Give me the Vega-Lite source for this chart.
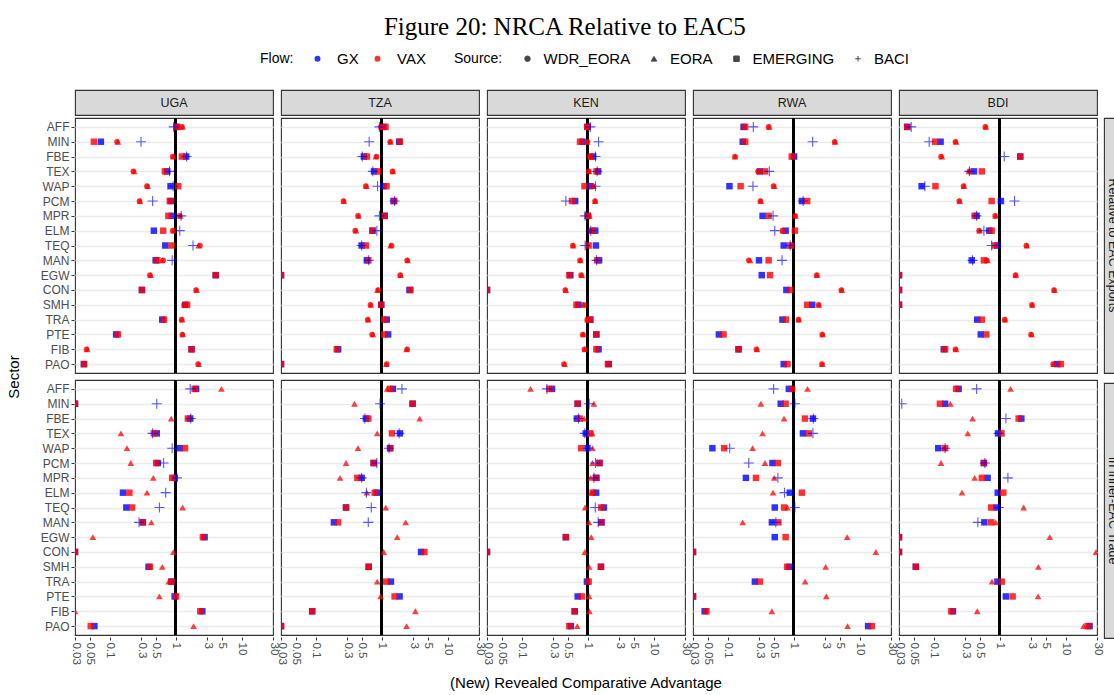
{
"$schema": "https://vega.github.io/schema/vega-lite/v6.json",
"background": "white",
"padding": {"left": 7, "top": 15, "right": 0, "bottom": 0},
"title": {"text": "Figure 20: NRCA Relative to EAC5", "font": "Liberation Serif", "fontSize": 25, "fontWeight": "normal", "color": "black", "anchor": "middle", "offset": 11},
"datasets": {
"strips": [{"c":"UGA","k":1},{"c":"TZA","k":1},{"c":"KEN","k":1},{"c":"RWA","k":1},{"c":"BDI","k":1}],
"rstrips": [{"r":1,"lab":"Relative to EAC Exports"},{"r":2,"lab":"In Inner-EAC Trade"}],
"pts": [
{"c":"UGA","r":1,"s":"AFF","f":"GX","o":"EMERGING","v":1.04},{"c":"UGA","r":1,"s":"AFF","f":"VAX","o":"EMERGING","v":1.06},{"c":"UGA","r":1,"s":"AFF","f":"VAX","o":"EORA","v":1.28},{"c":"UGA","r":1,"s":"AFF","f":"VAX","o":"WDR_EORA","v":1.25},{"c":"UGA","r":1,"s":"AFF","f":"GX","o":"BACI","v":0.94},
{"c":"UGA","r":1,"s":"MIN","f":"GX","o":"EMERGING","v":0.074},{"c":"UGA","r":1,"s":"MIN","f":"VAX","o":"EMERGING","v":0.058},{"c":"UGA","r":1,"s":"MIN","f":"VAX","o":"EORA","v":0.134},{"c":"UGA","r":1,"s":"MIN","f":"VAX","o":"WDR_EORA","v":0.13},{"c":"UGA","r":1,"s":"MIN","f":"GX","o":"BACI","v":0.30},
{"c":"UGA","r":1,"s":"FBE","f":"GX","o":"EMERGING","v":1.45},{"c":"UGA","r":1,"s":"FBE","f":"VAX","o":"EMERGING","v":1.25},{"c":"UGA","r":1,"s":"FBE","f":"VAX","o":"EORA","v":0.92},{"c":"UGA","r":1,"s":"FBE","f":"VAX","o":"WDR_EORA","v":0.91},{"c":"UGA","r":1,"s":"FBE","f":"GX","o":"BACI","v":1.47},
{"c":"UGA","r":1,"s":"TEX","f":"GX","o":"EMERGING","v":0.75},{"c":"UGA","r":1,"s":"TEX","f":"VAX","o":"EMERGING","v":0.69},{"c":"UGA","r":1,"s":"TEX","f":"VAX","o":"EORA","v":0.237},{"c":"UGA","r":1,"s":"TEX","f":"VAX","o":"WDR_EORA","v":0.23},{"c":"UGA","r":1,"s":"TEX","f":"GX","o":"BACI","v":0.81},
{"c":"UGA","r":1,"s":"WAP","f":"GX","o":"EMERGING","v":0.84},{"c":"UGA","r":1,"s":"WAP","f":"VAX","o":"EMERGING","v":1.1},{"c":"UGA","r":1,"s":"WAP","f":"VAX","o":"EORA","v":0.38},{"c":"UGA","r":1,"s":"WAP","f":"VAX","o":"WDR_EORA","v":0.37},{"c":"UGA","r":1,"s":"WAP","f":"GX","o":"BACI","v":0.92},
{"c":"UGA","r":1,"s":"PCM","f":"GX","o":"EMERGING","v":0.85},{"c":"UGA","r":1,"s":"PCM","f":"VAX","o":"EMERGING","v":0.82},{"c":"UGA","r":1,"s":"PCM","f":"VAX","o":"EORA","v":0.29},{"c":"UGA","r":1,"s":"PCM","f":"VAX","o":"WDR_EORA","v":0.285},{"c":"UGA","r":1,"s":"PCM","f":"GX","o":"BACI","v":0.45},
{"c":"UGA","r":1,"s":"MPR","f":"GX","o":"EMERGING","v":0.88},{"c":"UGA","r":1,"s":"MPR","f":"VAX","o":"EMERGING","v":0.78},{"c":"UGA","r":1,"s":"MPR","f":"VAX","o":"EORA","v":1.18},{"c":"UGA","r":1,"s":"MPR","f":"VAX","o":"WDR_EORA","v":1.16},{"c":"UGA","r":1,"s":"MPR","f":"GX","o":"BACI","v":1.22},
{"c":"UGA","r":1,"s":"ELM","f":"GX","o":"EMERGING","v":0.47},{"c":"UGA","r":1,"s":"ELM","f":"VAX","o":"EMERGING","v":0.65},{"c":"UGA","r":1,"s":"ELM","f":"VAX","o":"EORA","v":0.93},{"c":"UGA","r":1,"s":"ELM","f":"VAX","o":"WDR_EORA","v":0.91},{"c":"UGA","r":1,"s":"ELM","f":"GX","o":"BACI","v":1.16},
{"c":"UGA","r":1,"s":"TEQ","f":"GX","o":"EMERGING","v":0.70},{"c":"UGA","r":1,"s":"TEQ","f":"VAX","o":"EMERGING","v":0.87},{"c":"UGA","r":1,"s":"TEQ","f":"VAX","o":"EORA","v":2.24},{"c":"UGA","r":1,"s":"TEQ","f":"VAX","o":"WDR_EORA","v":2.35},{"c":"UGA","r":1,"s":"TEQ","f":"GX","o":"BACI","v":1.84},
{"c":"UGA","r":1,"s":"MAN","f":"GX","o":"EMERGING","v":0.50},{"c":"UGA","r":1,"s":"MAN","f":"VAX","o":"EMERGING","v":0.53},{"c":"UGA","r":1,"s":"MAN","f":"VAX","o":"EORA","v":0.63},{"c":"UGA","r":1,"s":"MAN","f":"VAX","o":"WDR_EORA","v":0.65},{"c":"UGA","r":1,"s":"MAN","f":"GX","o":"BACI","v":0.89},
{"c":"UGA","r":1,"s":"EGW","f":"GX","o":"EMERGING","v":4.07},{"c":"UGA","r":1,"s":"EGW","f":"VAX","o":"EMERGING","v":4.07},{"c":"UGA","r":1,"s":"EGW","f":"VAX","o":"EORA","v":0.42},{"c":"UGA","r":1,"s":"EGW","f":"VAX","o":"WDR_EORA","v":0.41},
{"c":"UGA","r":1,"s":"CON","f":"GX","o":"EMERGING","v":0.31},{"c":"UGA","r":1,"s":"CON","f":"VAX","o":"EMERGING","v":0.31},{"c":"UGA","r":1,"s":"CON","f":"VAX","o":"EORA","v":2.09},{"c":"UGA","r":1,"s":"CON","f":"VAX","o":"WDR_EORA","v":2.05},
{"c":"UGA","r":1,"s":"SMH","f":"GX","o":"EMERGING","v":1.4},{"c":"UGA","r":1,"s":"SMH","f":"VAX","o":"EMERGING","v":1.5},{"c":"UGA","r":1,"s":"SMH","f":"VAX","o":"EORA","v":1.37},{"c":"UGA","r":1,"s":"SMH","f":"VAX","o":"WDR_EORA","v":1.35},
{"c":"UGA","r":1,"s":"TRA","f":"GX","o":"EMERGING","v":0.63},{"c":"UGA","r":1,"s":"TRA","f":"VAX","o":"EMERGING","v":0.67},{"c":"UGA","r":1,"s":"TRA","f":"VAX","o":"EORA","v":1.26},{"c":"UGA","r":1,"s":"TRA","f":"VAX","o":"WDR_EORA","v":1.24},
{"c":"UGA","r":1,"s":"PTE","f":"GX","o":"EMERGING","v":0.126},{"c":"UGA","r":1,"s":"PTE","f":"VAX","o":"EMERGING","v":0.134},{"c":"UGA","r":1,"s":"PTE","f":"VAX","o":"EORA","v":1.29},{"c":"UGA","r":1,"s":"PTE","f":"VAX","o":"WDR_EORA","v":1.27},
{"c":"UGA","r":1,"s":"FIB","f":"GX","o":"EMERGING","v":1.75},{"c":"UGA","r":1,"s":"FIB","f":"VAX","o":"EMERGING","v":1.75},{"c":"UGA","r":1,"s":"FIB","f":"VAX","o":"EORA","v":0.046},{"c":"UGA","r":1,"s":"FIB","f":"VAX","o":"WDR_EORA","v":0.045},
{"c":"UGA","r":1,"s":"PAO","f":"GX","o":"EMERGING","v":0.041},{"c":"UGA","r":1,"s":"PAO","f":"VAX","o":"EMERGING","v":0.041},{"c":"UGA","r":1,"s":"PAO","f":"VAX","o":"EORA","v":2.24},{"c":"UGA","r":1,"s":"PAO","f":"VAX","o":"WDR_EORA","v":2.2},

{"c":"TZA","r":1,"s":"AFF","f":"GX","o":"EMERGING","v":1.07},{"c":"TZA","r":1,"s":"AFF","f":"VAX","o":"EMERGING","v":1.15},{"c":"TZA","r":1,"s":"AFF","f":"VAX","o":"EORA","v":1.0},{"c":"TZA","r":1,"s":"AFF","f":"VAX","o":"WDR_EORA","v":0.98},{"c":"TZA","r":1,"s":"AFF","f":"GX","o":"BACI","v":0.93},
{"c":"TZA","r":1,"s":"MIN","f":"GX","o":"EMERGING","v":1.85},{"c":"TZA","r":1,"s":"MIN","f":"VAX","o":"EMERGING","v":1.9},{"c":"TZA","r":1,"s":"MIN","f":"VAX","o":"EORA","v":1.37},{"c":"TZA","r":1,"s":"MIN","f":"VAX","o":"WDR_EORA","v":1.35},{"c":"TZA","r":1,"s":"MIN","f":"GX","o":"BACI","v":0.65},
{"c":"TZA","r":1,"s":"FBE","f":"GX","o":"EMERGING","v":0.54},{"c":"TZA","r":1,"s":"FBE","f":"VAX","o":"EMERGING","v":0.60},{"c":"TZA","r":1,"s":"FBE","f":"VAX","o":"EORA","v":0.82},{"c":"TZA","r":1,"s":"FBE","f":"VAX","o":"WDR_EORA","v":0.84},{"c":"TZA","r":1,"s":"FBE","f":"GX","o":"BACI","v":0.51},
{"c":"TZA","r":1,"s":"TEX","f":"GX","o":"EMERGING","v":0.77},{"c":"TZA","r":1,"s":"TEX","f":"VAX","o":"EMERGING","v":0.89},{"c":"TZA","r":1,"s":"TEX","f":"VAX","o":"EORA","v":1.49},{"c":"TZA","r":1,"s":"TEX","f":"VAX","o":"WDR_EORA","v":1.47},{"c":"TZA","r":1,"s":"TEX","f":"GX","o":"BACI","v":0.74},
{"c":"TZA","r":1,"s":"WAP","f":"GX","o":"EMERGING","v":1.07},{"c":"TZA","r":1,"s":"WAP","f":"VAX","o":"EMERGING","v":1.19},{"c":"TZA","r":1,"s":"WAP","f":"VAX","o":"EORA","v":0.59},{"c":"TZA","r":1,"s":"WAP","f":"VAX","o":"WDR_EORA","v":0.58},{"c":"TZA","r":1,"s":"WAP","f":"GX","o":"BACI","v":0.87},
{"c":"TZA","r":1,"s":"PCM","f":"GX","o":"EMERGING","v":1.52},{"c":"TZA","r":1,"s":"PCM","f":"VAX","o":"EMERGING","v":1.56},{"c":"TZA","r":1,"s":"PCM","f":"VAX","o":"EORA","v":0.27},{"c":"TZA","r":1,"s":"PCM","f":"VAX","o":"WDR_EORA","v":0.265},{"c":"TZA","r":1,"s":"PCM","f":"GX","o":"BACI","v":1.58},
{"c":"TZA","r":1,"s":"MPR","f":"GX","o":"EMERGING","v":1.12},{"c":"TZA","r":1,"s":"MPR","f":"VAX","o":"EMERGING","v":1.12},{"c":"TZA","r":1,"s":"MPR","f":"VAX","o":"EORA","v":0.45},{"c":"TZA","r":1,"s":"MPR","f":"VAX","o":"WDR_EORA","v":0.44},{"c":"TZA","r":1,"s":"MPR","f":"GX","o":"BACI","v":0.93},
{"c":"TZA","r":1,"s":"ELM","f":"GX","o":"EMERGING","v":0.73},{"c":"TZA","r":1,"s":"ELM","f":"VAX","o":"EMERGING","v":0.73},{"c":"TZA","r":1,"s":"ELM","f":"VAX","o":"EORA","v":0.41},{"c":"TZA","r":1,"s":"ELM","f":"VAX","o":"WDR_EORA","v":0.40},{"c":"TZA","r":1,"s":"ELM","f":"GX","o":"BACI","v":0.85},
{"c":"TZA","r":1,"s":"TEQ","f":"GX","o":"EMERGING","v":0.50},{"c":"TZA","r":1,"s":"TEQ","f":"VAX","o":"EMERGING","v":0.58},{"c":"TZA","r":1,"s":"TEQ","f":"VAX","o":"EORA","v":1.37},{"c":"TZA","r":1,"s":"TEQ","f":"VAX","o":"WDR_EORA","v":1.42},{"c":"TZA","r":1,"s":"TEQ","f":"GX","o":"BACI","v":0.50},
{"c":"TZA","r":1,"s":"MAN","f":"GX","o":"EMERGING","v":0.60},{"c":"TZA","r":1,"s":"MAN","f":"VAX","o":"EMERGING","v":0.63},{"c":"TZA","r":1,"s":"MAN","f":"VAX","o":"EORA","v":2.49},{"c":"TZA","r":1,"s":"MAN","f":"VAX","o":"WDR_EORA","v":2.45},{"c":"TZA","r":1,"s":"MAN","f":"GX","o":"BACI","v":0.64},
{"c":"TZA","r":1,"s":"EGW","f":"GX","o":"EMERGING","v":0.03},{"c":"TZA","r":1,"s":"EGW","f":"VAX","o":"EMERGING","v":0.03},{"c":"TZA","r":1,"s":"EGW","f":"VAX","o":"EORA","v":1.95},{"c":"TZA","r":1,"s":"EGW","f":"VAX","o":"WDR_EORA","v":1.92},
{"c":"TZA","r":1,"s":"CON","f":"GX","o":"EMERGING","v":2.65},{"c":"TZA","r":1,"s":"CON","f":"VAX","o":"EMERGING","v":2.75},{"c":"TZA","r":1,"s":"CON","f":"VAX","o":"EORA","v":0.87},{"c":"TZA","r":1,"s":"CON","f":"VAX","o":"WDR_EORA","v":0.89},
{"c":"TZA","r":1,"s":"SMH","f":"GX","o":"EMERGING","v":0.99},{"c":"TZA","r":1,"s":"SMH","f":"VAX","o":"EMERGING","v":0.99},{"c":"TZA","r":1,"s":"SMH","f":"VAX","o":"EORA","v":0.69},{"c":"TZA","r":1,"s":"SMH","f":"VAX","o":"WDR_EORA","v":0.68},
{"c":"TZA","r":1,"s":"TRA","f":"GX","o":"EMERGING","v":1.2},{"c":"TZA","r":1,"s":"TRA","f":"VAX","o":"EMERGING","v":1.1},{"c":"TZA","r":1,"s":"TRA","f":"VAX","o":"EORA","v":0.63},{"c":"TZA","r":1,"s":"TRA","f":"VAX","o":"WDR_EORA","v":0.62},
{"c":"TZA","r":1,"s":"PTE","f":"GX","o":"EMERGING","v":1.26},{"c":"TZA","r":1,"s":"PTE","f":"VAX","o":"EMERGING","v":1.1},{"c":"TZA","r":1,"s":"PTE","f":"VAX","o":"EORA","v":0.74},{"c":"TZA","r":1,"s":"PTE","f":"VAX","o":"WDR_EORA","v":0.72},
{"c":"TZA","r":1,"s":"FIB","f":"GX","o":"EMERGING","v":0.22},{"c":"TZA","r":1,"s":"FIB","f":"VAX","o":"EMERGING","v":0.21},{"c":"TZA","r":1,"s":"FIB","f":"VAX","o":"EORA","v":2.4},{"c":"TZA","r":1,"s":"FIB","f":"VAX","o":"WDR_EORA","v":2.45},
{"c":"TZA","r":1,"s":"PAO","f":"GX","o":"EMERGING","v":0.03},{"c":"TZA","r":1,"s":"PAO","f":"VAX","o":"EMERGING","v":0.03},{"c":"TZA","r":1,"s":"PAO","f":"VAX","o":"EORA","v":1.18},{"c":"TZA","r":1,"s":"PAO","f":"VAX","o":"WDR_EORA","v":1.2},

{"c":"KEN","r":1,"s":"AFF","f":"GX","o":"EMERGING","v":1.0},{"c":"KEN","r":1,"s":"AFF","f":"VAX","o":"EMERGING","v":1.0},{"c":"KEN","r":1,"s":"AFF","f":"VAX","o":"EORA","v":1.0},{"c":"KEN","r":1,"s":"AFF","f":"VAX","o":"WDR_EORA","v":0.98},{"c":"KEN","r":1,"s":"AFF","f":"GX","o":"BACI","v":1.1},
{"c":"KEN","r":1,"s":"MIN","f":"GX","o":"EMERGING","v":0.84},{"c":"KEN","r":1,"s":"MIN","f":"VAX","o":"EMERGING","v":0.77},{"c":"KEN","r":1,"s":"MIN","f":"VAX","o":"EORA","v":0.99},{"c":"KEN","r":1,"s":"MIN","f":"VAX","o":"WDR_EORA","v":1.0},{"c":"KEN","r":1,"s":"MIN","f":"GX","o":"BACI","v":1.47},
{"c":"KEN","r":1,"s":"FBE","f":"GX","o":"EMERGING","v":1.22},{"c":"KEN","r":1,"s":"FBE","f":"VAX","o":"EMERGING","v":1.12},{"c":"KEN","r":1,"s":"FBE","f":"VAX","o":"EORA","v":1.12},{"c":"KEN","r":1,"s":"FBE","f":"VAX","o":"WDR_EORA","v":1.1},{"c":"KEN","r":1,"s":"FBE","f":"GX","o":"BACI","v":1.32},
{"c":"KEN","r":1,"s":"TEX","f":"GX","o":"EMERGING","v":1.45},{"c":"KEN","r":1,"s":"TEX","f":"VAX","o":"EMERGING","v":1.37},{"c":"KEN","r":1,"s":"TEX","f":"VAX","o":"EORA","v":1.06},{"c":"KEN","r":1,"s":"TEX","f":"VAX","o":"WDR_EORA","v":1.05},{"c":"KEN","r":1,"s":"TEX","f":"GX","o":"BACI","v":1.4},
{"c":"KEN","r":1,"s":"WAP","f":"GX","o":"EMERGING","v":1.1},{"c":"KEN","r":1,"s":"WAP","f":"VAX","o":"EMERGING","v":0.90},{"c":"KEN","r":1,"s":"WAP","f":"VAX","o":"EORA","v":1.23},{"c":"KEN","r":1,"s":"WAP","f":"VAX","o":"WDR_EORA","v":1.2},{"c":"KEN","r":1,"s":"WAP","f":"GX","o":"BACI","v":1.32},
{"c":"KEN","r":1,"s":"PCM","f":"GX","o":"EMERGING","v":0.65},{"c":"KEN","r":1,"s":"PCM","f":"VAX","o":"EMERGING","v":0.58},{"c":"KEN","r":1,"s":"PCM","f":"VAX","o":"EORA","v":1.31},{"c":"KEN","r":1,"s":"PCM","f":"VAX","o":"WDR_EORA","v":1.3},{"c":"KEN","r":1,"s":"PCM","f":"GX","o":"BACI","v":0.47},
{"c":"KEN","r":1,"s":"MPR","f":"GX","o":"EMERGING","v":1.01},{"c":"KEN","r":1,"s":"MPR","f":"VAX","o":"EMERGING","v":1.01},{"c":"KEN","r":1,"s":"MPR","f":"VAX","o":"EORA","v":1.07},{"c":"KEN","r":1,"s":"MPR","f":"VAX","o":"WDR_EORA","v":1.05},{"c":"KEN","r":1,"s":"MPR","f":"GX","o":"BACI","v":0.92},
{"c":"KEN","r":1,"s":"ELM","f":"GX","o":"EMERGING","v":1.31},{"c":"KEN","r":1,"s":"ELM","f":"VAX","o":"EMERGING","v":1.2},{"c":"KEN","r":1,"s":"ELM","f":"VAX","o":"EORA","v":1.16},{"c":"KEN","r":1,"s":"ELM","f":"VAX","o":"WDR_EORA","v":1.14},{"c":"KEN","r":1,"s":"ELM","f":"GX","o":"BACI","v":1.12},
{"c":"KEN","r":1,"s":"TEQ","f":"GX","o":"EMERGING","v":1.34},{"c":"KEN","r":1,"s":"TEQ","f":"VAX","o":"EMERGING","v":1.04},{"c":"KEN","r":1,"s":"TEQ","f":"VAX","o":"EORA","v":0.61},{"c":"KEN","r":1,"s":"TEQ","f":"VAX","o":"WDR_EORA","v":0.6},{"c":"KEN","r":1,"s":"TEQ","f":"GX","o":"BACI","v":0.92},
{"c":"KEN","r":1,"s":"MAN","f":"GX","o":"EMERGING","v":1.5},{"c":"KEN","r":1,"s":"MAN","f":"VAX","o":"EMERGING","v":1.4},{"c":"KEN","r":1,"s":"MAN","f":"VAX","o":"EORA","v":0.78},{"c":"KEN","r":1,"s":"MAN","f":"VAX","o":"WDR_EORA","v":0.77},{"c":"KEN","r":1,"s":"MAN","f":"GX","o":"BACI","v":1.37},
{"c":"KEN","r":1,"s":"EGW","f":"GX","o":"EMERGING","v":0.55},{"c":"KEN","r":1,"s":"EGW","f":"VAX","o":"EMERGING","v":0.53},{"c":"KEN","r":1,"s":"EGW","f":"VAX","o":"EORA","v":0.82},{"c":"KEN","r":1,"s":"EGW","f":"VAX","o":"WDR_EORA","v":0.8},
{"c":"KEN","r":1,"s":"CON","f":"GX","o":"EMERGING","v":0.03},{"c":"KEN","r":1,"s":"CON","f":"VAX","o":"EMERGING","v":0.03},{"c":"KEN","r":1,"s":"CON","f":"VAX","o":"EORA","v":0.47},{"c":"KEN","r":1,"s":"CON","f":"VAX","o":"WDR_EORA","v":0.46},
{"c":"KEN","r":1,"s":"SMH","f":"GX","o":"EMERGING","v":0.73},{"c":"KEN","r":1,"s":"SMH","f":"VAX","o":"EMERGING","v":0.68},{"c":"KEN","r":1,"s":"SMH","f":"VAX","o":"EORA","v":0.87},{"c":"KEN","r":1,"s":"SMH","f":"VAX","o":"WDR_EORA","v":0.88},
{"c":"KEN","r":1,"s":"TRA","f":"GX","o":"EMERGING","v":1.1},{"c":"KEN","r":1,"s":"TRA","f":"VAX","o":"EMERGING","v":1.1},{"c":"KEN","r":1,"s":"TRA","f":"VAX","o":"EORA","v":1.0},{"c":"KEN","r":1,"s":"TRA","f":"VAX","o":"WDR_EORA","v":0.99},
{"c":"KEN","r":1,"s":"PTE","f":"GX","o":"EMERGING","v":1.36},{"c":"KEN","r":1,"s":"PTE","f":"VAX","o":"EMERGING","v":1.36},{"c":"KEN","r":1,"s":"PTE","f":"VAX","o":"EORA","v":0.86},{"c":"KEN","r":1,"s":"PTE","f":"VAX","o":"WDR_EORA","v":0.85},
{"c":"KEN","r":1,"s":"FIB","f":"GX","o":"EMERGING","v":1.47},{"c":"KEN","r":1,"s":"FIB","f":"VAX","o":"EMERGING","v":1.36},{"c":"KEN","r":1,"s":"FIB","f":"VAX","o":"EORA","v":0.91},{"c":"KEN","r":1,"s":"FIB","f":"VAX","o":"WDR_EORA","v":0.9},
{"c":"KEN","r":1,"s":"PAO","f":"GX","o":"EMERGING","v":2.1},{"c":"KEN","r":1,"s":"PAO","f":"VAX","o":"EMERGING","v":2.04},{"c":"KEN","r":1,"s":"PAO","f":"VAX","o":"EORA","v":0.45},{"c":"KEN","r":1,"s":"PAO","f":"VAX","o":"WDR_EORA","v":0.44},

{"c":"RWA","r":1,"s":"AFF","f":"GX","o":"EMERGING","v":0.175},{"c":"RWA","r":1,"s":"AFF","f":"VAX","o":"EMERGING","v":0.185},{"c":"RWA","r":1,"s":"AFF","f":"VAX","o":"EORA","v":0.43},{"c":"RWA","r":1,"s":"AFF","f":"VAX","o":"WDR_EORA","v":0.42},{"c":"RWA","r":1,"s":"AFF","f":"GX","o":"BACI","v":0.246},
{"c":"RWA","r":1,"s":"MIN","f":"GX","o":"EMERGING","v":0.17},{"c":"RWA","r":1,"s":"MIN","f":"VAX","o":"EMERGING","v":0.185},{"c":"RWA","r":1,"s":"MIN","f":"VAX","o":"EORA","v":4.26},{"c":"RWA","r":1,"s":"MIN","f":"VAX","o":"WDR_EORA","v":4.2},{"c":"RWA","r":1,"s":"MIN","f":"GX","o":"BACI","v":1.95},
{"c":"RWA","r":1,"s":"FBE","f":"GX","o":"EMERGING","v":1.02},{"c":"RWA","r":1,"s":"FBE","f":"VAX","o":"EMERGING","v":0.94},{"c":"RWA","r":1,"s":"FBE","f":"VAX","o":"EORA","v":0.13},{"c":"RWA","r":1,"s":"FBE","f":"VAX","o":"WDR_EORA","v":0.13},
{"c":"RWA","r":1,"s":"TEX","f":"GX","o":"EMERGING","v":0.31},{"c":"RWA","r":1,"s":"TEX","f":"VAX","o":"EMERGING","v":0.37},{"c":"RWA","r":1,"s":"TEX","f":"VAX","o":"EORA","v":0.30},{"c":"RWA","r":1,"s":"TEX","f":"VAX","o":"WDR_EORA","v":0.29},{"c":"RWA","r":1,"s":"TEX","f":"GX","o":"BACI","v":0.43},
{"c":"RWA","r":1,"s":"WAP","f":"GX","o":"EMERGING","v":0.107},{"c":"RWA","r":1,"s":"WAP","f":"VAX","o":"EMERGING","v":0.158},{"c":"RWA","r":1,"s":"WAP","f":"VAX","o":"EORA","v":0.51},{"c":"RWA","r":1,"s":"WAP","f":"VAX","o":"WDR_EORA","v":0.5},{"c":"RWA","r":1,"s":"WAP","f":"GX","o":"BACI","v":0.243},
{"c":"RWA","r":1,"s":"PCM","f":"GX","o":"EMERGING","v":1.34},{"c":"RWA","r":1,"s":"PCM","f":"VAX","o":"EMERGING","v":1.61},{"c":"RWA","r":1,"s":"PCM","f":"VAX","o":"EORA","v":0.32},{"c":"RWA","r":1,"s":"PCM","f":"VAX","o":"WDR_EORA","v":0.315},{"c":"RWA","r":1,"s":"PCM","f":"GX","o":"BACI","v":1.4},
{"c":"RWA","r":1,"s":"MPR","f":"GX","o":"EMERGING","v":0.34},{"c":"RWA","r":1,"s":"MPR","f":"VAX","o":"EMERGING","v":0.42},{"c":"RWA","r":1,"s":"MPR","f":"VAX","o":"EORA","v":1.07},{"c":"RWA","r":1,"s":"MPR","f":"VAX","o":"WDR_EORA","v":1.06},{"c":"RWA","r":1,"s":"MPR","f":"GX","o":"BACI","v":0.49},
{"c":"RWA","r":1,"s":"ELM","f":"GX","o":"EMERGING","v":0.76},{"c":"RWA","r":1,"s":"ELM","f":"VAX","o":"EMERGING","v":1.05},{"c":"RWA","r":1,"s":"ELM","f":"VAX","o":"EORA","v":0.69},{"c":"RWA","r":1,"s":"ELM","f":"VAX","o":"WDR_EORA","v":0.68},{"c":"RWA","r":1,"s":"ELM","f":"GX","o":"BACI","v":0.52},
{"c":"RWA","r":1,"s":"TEQ","f":"GX","o":"EMERGING","v":0.71},{"c":"RWA","r":1,"s":"TEQ","f":"VAX","o":"EMERGING","v":0.89},{"c":"RWA","r":1,"s":"TEQ","f":"VAX","o":"EORA","v":0.92},{"c":"RWA","r":1,"s":"TEQ","f":"VAX","o":"WDR_EORA","v":0.94},{"c":"RWA","r":1,"s":"TEQ","f":"GX","o":"BACI","v":0.89},
{"c":"RWA","r":1,"s":"MAN","f":"GX","o":"EMERGING","v":0.30},{"c":"RWA","r":1,"s":"MAN","f":"VAX","o":"EMERGING","v":0.42},{"c":"RWA","r":1,"s":"MAN","f":"VAX","o":"EORA","v":0.22},{"c":"RWA","r":1,"s":"MAN","f":"VAX","o":"WDR_EORA","v":0.21},{"c":"RWA","r":1,"s":"MAN","f":"GX","o":"BACI","v":0.67},
{"c":"RWA","r":1,"s":"EGW","f":"GX","o":"EMERGING","v":0.33},{"c":"RWA","r":1,"s":"EGW","f":"VAX","o":"EMERGING","v":0.44},{"c":"RWA","r":1,"s":"EGW","f":"VAX","o":"EORA","v":2.27},{"c":"RWA","r":1,"s":"EGW","f":"VAX","o":"WDR_EORA","v":2.25},
{"c":"RWA","r":1,"s":"CON","f":"GX","o":"EMERGING","v":0.78},{"c":"RWA","r":1,"s":"CON","f":"VAX","o":"EMERGING","v":0.89},{"c":"RWA","r":1,"s":"CON","f":"VAX","o":"EORA","v":5.4},{"c":"RWA","r":1,"s":"CON","f":"VAX","o":"WDR_EORA","v":5.3},
{"c":"RWA","r":1,"s":"SMH","f":"GX","o":"EMERGING","v":1.92},{"c":"RWA","r":1,"s":"SMH","f":"VAX","o":"EMERGING","v":1.61},{"c":"RWA","r":1,"s":"SMH","f":"VAX","o":"EORA","v":2.43},{"c":"RWA","r":1,"s":"SMH","f":"VAX","o":"WDR_EORA","v":2.4},
{"c":"RWA","r":1,"s":"TRA","f":"GX","o":"EMERGING","v":0.68},{"c":"RWA","r":1,"s":"TRA","f":"VAX","o":"EMERGING","v":0.77},{"c":"RWA","r":1,"s":"TRA","f":"VAX","o":"EORA","v":1.2},{"c":"RWA","r":1,"s":"TRA","f":"VAX","o":"WDR_EORA","v":1.19},
{"c":"RWA","r":1,"s":"PTE","f":"GX","o":"EMERGING","v":0.074},{"c":"RWA","r":1,"s":"PTE","f":"VAX","o":"EMERGING","v":0.087},{"c":"RWA","r":1,"s":"PTE","f":"VAX","o":"EORA","v":2.76},{"c":"RWA","r":1,"s":"PTE","f":"VAX","o":"WDR_EORA","v":2.73},
{"c":"RWA","r":1,"s":"FIB","f":"GX","o":"EMERGING","v":0.147},{"c":"RWA","r":1,"s":"FIB","f":"VAX","o":"EMERGING","v":0.147},{"c":"RWA","r":1,"s":"FIB","f":"VAX","o":"EORA","v":0.28},{"c":"RWA","r":1,"s":"FIB","f":"VAX","o":"WDR_EORA","v":0.275},
{"c":"RWA","r":1,"s":"PAO","f":"GX","o":"EMERGING","v":0.71},{"c":"RWA","r":1,"s":"PAO","f":"VAX","o":"EMERGING","v":0.81},{"c":"RWA","r":1,"s":"PAO","f":"VAX","o":"EORA","v":2.73},{"c":"RWA","r":1,"s":"PAO","f":"VAX","o":"WDR_EORA","v":2.7},

{"c":"BDI","r":1,"s":"AFF","f":"GX","o":"EMERGING","v":0.040},{"c":"BDI","r":1,"s":"AFF","f":"VAX","o":"EMERGING","v":0.040},{"c":"BDI","r":1,"s":"AFF","f":"VAX","o":"EORA","v":0.62},{"c":"BDI","r":1,"s":"AFF","f":"VAX","o":"WDR_EORA","v":0.61},{"c":"BDI","r":1,"s":"AFF","f":"GX","o":"BACI","v":0.046},
{"c":"BDI","r":1,"s":"MIN","f":"GX","o":"EMERGING","v":0.128},{"c":"BDI","r":1,"s":"MIN","f":"VAX","o":"EMERGING","v":0.106},{"c":"BDI","r":1,"s":"MIN","f":"VAX","o":"EORA","v":0.22},{"c":"BDI","r":1,"s":"MIN","f":"VAX","o":"WDR_EORA","v":0.215},{"c":"BDI","r":1,"s":"MIN","f":"GX","o":"BACI","v":0.086},
{"c":"BDI","r":1,"s":"FBE","f":"GX","o":"EMERGING","v":2.06},{"c":"BDI","r":1,"s":"FBE","f":"VAX","o":"EMERGING","v":2.06},{"c":"BDI","r":1,"s":"FBE","f":"VAX","o":"EORA","v":0.134},{"c":"BDI","r":1,"s":"FBE","f":"VAX","o":"WDR_EORA","v":0.13},{"c":"BDI","r":1,"s":"FBE","f":"GX","o":"BACI","v":1.18},
{"c":"BDI","r":1,"s":"TEX","f":"GX","o":"EMERGING","v":0.41},{"c":"BDI","r":1,"s":"TEX","f":"VAX","o":"EMERGING","v":0.54},{"c":"BDI","r":1,"s":"TEX","f":"VAX","o":"EORA","v":0.345},{"c":"BDI","r":1,"s":"TEX","f":"VAX","o":"WDR_EORA","v":0.35},{"c":"BDI","r":1,"s":"TEX","f":"GX","o":"BACI","v":0.35},
{"c":"BDI","r":1,"s":"WAP","f":"GX","o":"EMERGING","v":0.066},{"c":"BDI","r":1,"s":"WAP","f":"VAX","o":"EMERGING","v":0.107},{"c":"BDI","r":1,"s":"WAP","f":"VAX","o":"EORA","v":0.29},{"c":"BDI","r":1,"s":"WAP","f":"VAX","o":"WDR_EORA","v":0.285},{"c":"BDI","r":1,"s":"WAP","f":"GX","o":"BACI","v":0.074},
{"c":"BDI","r":1,"s":"PCM","f":"GX","o":"EMERGING","v":1.05},{"c":"BDI","r":1,"s":"PCM","f":"VAX","o":"EMERGING","v":0.76},{"c":"BDI","r":1,"s":"PCM","f":"VAX","o":"EORA","v":0.25},{"c":"BDI","r":1,"s":"PCM","f":"VAX","o":"WDR_EORA","v":0.245},{"c":"BDI","r":1,"s":"PCM","f":"GX","o":"BACI","v":1.69},
{"c":"BDI","r":1,"s":"MPR","f":"GX","o":"EMERGING","v":0.45},{"c":"BDI","r":1,"s":"MPR","f":"VAX","o":"EMERGING","v":0.42},{"c":"BDI","r":1,"s":"MPR","f":"VAX","o":"EORA","v":0.87},{"c":"BDI","r":1,"s":"MPR","f":"VAX","o":"WDR_EORA","v":0.86},{"c":"BDI","r":1,"s":"MPR","f":"GX","o":"BACI","v":0.45},
{"c":"BDI","r":1,"s":"ELM","f":"GX","o":"EMERGING","v":0.70},{"c":"BDI","r":1,"s":"ELM","f":"VAX","o":"EMERGING","v":0.76},{"c":"BDI","r":1,"s":"ELM","f":"VAX","o":"EORA","v":0.50},{"c":"BDI","r":1,"s":"ELM","f":"VAX","o":"WDR_EORA","v":0.49},{"c":"BDI","r":1,"s":"ELM","f":"GX","o":"BACI","v":0.58},
{"c":"BDI","r":1,"s":"TEQ","f":"GX","o":"EMERGING","v":0.93},{"c":"BDI","r":1,"s":"TEQ","f":"VAX","o":"EMERGING","v":0.85},{"c":"BDI","r":1,"s":"TEQ","f":"VAX","o":"EORA","v":2.6},{"c":"BDI","r":1,"s":"TEQ","f":"VAX","o":"WDR_EORA","v":2.55},{"c":"BDI","r":1,"s":"TEQ","f":"GX","o":"BACI","v":0.76},
{"c":"BDI","r":1,"s":"MAN","f":"GX","o":"EMERGING","v":0.38},{"c":"BDI","r":1,"s":"MAN","f":"VAX","o":"EMERGING","v":0.58},{"c":"BDI","r":1,"s":"MAN","f":"VAX","o":"EORA","v":0.66},{"c":"BDI","r":1,"s":"MAN","f":"VAX","o":"WDR_EORA","v":0.64},{"c":"BDI","r":1,"s":"MAN","f":"GX","o":"BACI","v":0.39},
{"c":"BDI","r":1,"s":"EGW","f":"GX","o":"EMERGING","v":0.03},{"c":"BDI","r":1,"s":"EGW","f":"VAX","o":"EMERGING","v":0.03},{"c":"BDI","r":1,"s":"EGW","f":"VAX","o":"EORA","v":1.77},{"c":"BDI","r":1,"s":"EGW","f":"VAX","o":"WDR_EORA","v":1.75},
{"c":"BDI","r":1,"s":"CON","f":"GX","o":"EMERGING","v":0.03},{"c":"BDI","r":1,"s":"CON","f":"VAX","o":"EMERGING","v":0.03},{"c":"BDI","r":1,"s":"CON","f":"VAX","o":"EORA","v":6.8},{"c":"BDI","r":1,"s":"CON","f":"VAX","o":"WDR_EORA","v":6.7},
{"c":"BDI","r":1,"s":"SMH","f":"GX","o":"EMERGING","v":0.03},{"c":"BDI","r":1,"s":"SMH","f":"VAX","o":"EMERGING","v":0.03},{"c":"BDI","r":1,"s":"SMH","f":"VAX","o":"EORA","v":3.14},{"c":"BDI","r":1,"s":"SMH","f":"VAX","o":"WDR_EORA","v":3.1},
{"c":"BDI","r":1,"s":"TRA","f":"GX","o":"EMERGING","v":0.46},{"c":"BDI","r":1,"s":"TRA","f":"VAX","o":"EMERGING","v":0.54},{"c":"BDI","r":1,"s":"TRA","f":"VAX","o":"EORA","v":1.22},{"c":"BDI","r":1,"s":"TRA","f":"VAX","o":"WDR_EORA","v":1.2},
{"c":"BDI","r":1,"s":"PTE","f":"GX","o":"EMERGING","v":0.52},{"c":"BDI","r":1,"s":"PTE","f":"VAX","o":"EMERGING","v":0.63},{"c":"BDI","r":1,"s":"PTE","f":"VAX","o":"EORA","v":3.07},{"c":"BDI","r":1,"s":"PTE","f":"VAX","o":"WDR_EORA","v":3.0},
{"c":"BDI","r":1,"s":"FIB","f":"GX","o":"EMERGING","v":0.143},{"c":"BDI","r":1,"s":"FIB","f":"VAX","o":"EMERGING","v":0.15},{"c":"BDI","r":1,"s":"FIB","f":"VAX","o":"EORA","v":0.22},{"c":"BDI","r":1,"s":"FIB","f":"VAX","o":"WDR_EORA","v":0.215},
{"c":"BDI","r":1,"s":"PAO","f":"GX","o":"EMERGING","v":7.5},{"c":"BDI","r":1,"s":"PAO","f":"VAX","o":"EMERGING","v":8.5},{"c":"BDI","r":1,"s":"PAO","f":"VAX","o":"EORA","v":6.6},{"c":"BDI","r":1,"s":"PAO","f":"VAX","o":"WDR_EORA","v":6.5},

{"c":"UGA","r":2,"s":"AFF","f":"GX","o":"EMERGING","v":2.05},{"c":"UGA","r":2,"s":"AFF","f":"VAX","o":"EMERGING","v":1.95},{"c":"UGA","r":2,"s":"AFF","f":"VAX","o":"EORA","v":4.96},{"c":"UGA","r":2,"s":"AFF","f":"GX","o":"BACI","v":1.67},
{"c":"UGA","r":2,"s":"MIN","f":"GX","o":"EMERGING","v":0.03},{"c":"UGA","r":2,"s":"MIN","f":"VAX","o":"EMERGING","v":0.03},{"c":"UGA","r":2,"s":"MIN","f":"GX","o":"BACI","v":0.52},
{"c":"UGA","r":2,"s":"FBE","f":"GX","o":"EMERGING","v":1.67},{"c":"UGA","r":2,"s":"FBE","f":"VAX","o":"EMERGING","v":1.54},{"c":"UGA","r":2,"s":"FBE","f":"VAX","o":"EORA","v":0.86},{"c":"UGA","r":2,"s":"FBE","f":"GX","o":"BACI","v":1.7},
{"c":"UGA","r":2,"s":"TEX","f":"GX","o":"EMERGING","v":0.52},{"c":"UGA","r":2,"s":"TEX","f":"VAX","o":"EMERGING","v":0.47},{"c":"UGA","r":2,"s":"TEX","f":"VAX","o":"EORA","v":0.149},{"c":"UGA","r":2,"s":"TEX","f":"GX","o":"BACI","v":0.45},
{"c":"UGA","r":2,"s":"WAP","f":"GX","o":"EMERGING","v":1.16},{"c":"UGA","r":2,"s":"WAP","f":"VAX","o":"EMERGING","v":1.39},{"c":"UGA","r":2,"s":"WAP","f":"VAX","o":"EORA","v":0.184},{"c":"UGA","r":2,"s":"WAP","f":"GX","o":"BACI","v":0.89},
{"c":"UGA","r":2,"s":"PCM","f":"GX","o":"EMERGING","v":0.54},{"c":"UGA","r":2,"s":"PCM","f":"VAX","o":"EMERGING","v":0.51},{"c":"UGA","r":2,"s":"PCM","f":"VAX","o":"EORA","v":0.21},{"c":"UGA","r":2,"s":"PCM","f":"GX","o":"BACI","v":0.66},
{"c":"UGA","r":2,"s":"MPR","f":"GX","o":"EMERGING","v":0.97},{"c":"UGA","r":2,"s":"MPR","f":"VAX","o":"EMERGING","v":0.89},{"c":"UGA","r":2,"s":"MPR","f":"VAX","o":"EORA","v":0.46},{"c":"UGA","r":2,"s":"MPR","f":"GX","o":"BACI","v":1.05},
{"c":"UGA","r":2,"s":"ELM","f":"GX","o":"EMERGING","v":0.16},{"c":"UGA","r":2,"s":"ELM","f":"VAX","o":"EMERGING","v":0.20},{"c":"UGA","r":2,"s":"ELM","f":"VAX","o":"EORA","v":0.37},{"c":"UGA","r":2,"s":"ELM","f":"GX","o":"BACI","v":0.71},
{"c":"UGA","r":2,"s":"TEQ","f":"GX","o":"EMERGING","v":0.18},{"c":"UGA","r":2,"s":"TEQ","f":"VAX","o":"EMERGING","v":0.22},{"c":"UGA","r":2,"s":"TEQ","f":"VAX","o":"EORA","v":1.28},{"c":"UGA","r":2,"s":"TEQ","f":"GX","o":"BACI","v":0.57},
{"c":"UGA","r":2,"s":"MAN","f":"GX","o":"EMERGING","v":0.32},{"c":"UGA","r":2,"s":"MAN","f":"VAX","o":"EMERGING","v":0.32},{"c":"UGA","r":2,"s":"MAN","f":"VAX","o":"EORA","v":0.43},{"c":"UGA","r":2,"s":"MAN","f":"GX","o":"BACI","v":0.28},
{"c":"UGA","r":2,"s":"EGW","f":"GX","o":"EMERGING","v":2.76},{"c":"UGA","r":2,"s":"EGW","f":"VAX","o":"EMERGING","v":2.6},{"c":"UGA","r":2,"s":"EGW","f":"VAX","o":"EORA","v":0.056},
{"c":"UGA","r":2,"s":"CON","f":"GX","o":"EMERGING","v":0.03},{"c":"UGA","r":2,"s":"CON","f":"VAX","o":"EMERGING","v":0.03},{"c":"UGA","r":2,"s":"CON","f":"VAX","o":"EORA","v":0.93},
{"c":"UGA","r":2,"s":"SMH","f":"GX","o":"EMERGING","v":0.39},{"c":"UGA","r":2,"s":"SMH","f":"VAX","o":"EMERGING","v":0.41},{"c":"UGA","r":2,"s":"SMH","f":"VAX","o":"EORA","v":0.63},
{"c":"UGA","r":2,"s":"TRA","f":"GX","o":"EMERGING","v":0.87},{"c":"UGA","r":2,"s":"TRA","f":"VAX","o":"EMERGING","v":0.87},{"c":"UGA","r":2,"s":"TRA","f":"VAX","o":"EORA","v":0.79},
{"c":"UGA","r":2,"s":"PTE","f":"GX","o":"EMERGING","v":0.97},{"c":"UGA","r":2,"s":"PTE","f":"VAX","o":"EMERGING","v":1.02},{"c":"UGA","r":2,"s":"PTE","f":"VAX","o":"EORA","v":0.57},
{"c":"UGA","r":2,"s":"FIB","f":"GX","o":"EMERGING","v":2.55},{"c":"UGA","r":2,"s":"FIB","f":"VAX","o":"EMERGING","v":2.37},{"c":"UGA","r":2,"s":"FIB","f":"VAX","o":"EORA","v":0.03},
{"c":"UGA","r":2,"s":"PAO","f":"GX","o":"EMERGING","v":0.059},{"c":"UGA","r":2,"s":"PAO","f":"VAX","o":"EMERGING","v":0.052},{"c":"UGA","r":2,"s":"PAO","f":"VAX","o":"EORA","v":1.88},

{"c":"TZA","r":2,"s":"AFF","f":"GX","o":"EMERGING","v":1.49},{"c":"TZA","r":2,"s":"AFF","f":"VAX","o":"EMERGING","v":1.34},{"c":"TZA","r":2,"s":"AFF","f":"VAX","o":"EORA","v":1.22},{"c":"TZA","r":2,"s":"AFF","f":"GX","o":"BACI","v":2.04},
{"c":"TZA","r":2,"s":"MIN","f":"GX","o":"EMERGING","v":2.96},{"c":"TZA","r":2,"s":"MIN","f":"VAX","o":"EMERGING","v":2.96},{"c":"TZA","r":2,"s":"MIN","f":"VAX","o":"EORA","v":0.39},{"c":"TZA","r":2,"s":"MIN","f":"GX","o":"BACI","v":0.95},
{"c":"TZA","r":2,"s":"FBE","f":"GX","o":"EMERGING","v":0.58},{"c":"TZA","r":2,"s":"FBE","f":"VAX","o":"EMERGING","v":0.63},{"c":"TZA","r":2,"s":"FBE","f":"VAX","o":"EORA","v":3.79},{"c":"TZA","r":2,"s":"FBE","f":"GX","o":"BACI","v":0.56},
{"c":"TZA","r":2,"s":"TEX","f":"GX","o":"EMERGING","v":1.9},{"c":"TZA","r":2,"s":"TEX","f":"VAX","o":"EMERGING","v":1.44},{"c":"TZA","r":2,"s":"TEX","f":"VAX","o":"EORA","v":0.86},{"c":"TZA","r":2,"s":"TEX","f":"GX","o":"BACI","v":1.85},
{"c":"TZA","r":2,"s":"WAP","f":"GX","o":"EMERGING","v":1.35},{"c":"TZA","r":2,"s":"WAP","f":"VAX","o":"EMERGING","v":1.35},{"c":"TZA","r":2,"s":"WAP","f":"VAX","o":"EORA","v":0.44},{"c":"TZA","r":2,"s":"WAP","f":"GX","o":"BACI","v":1.3},
{"c":"TZA","r":2,"s":"PCM","f":"GX","o":"EMERGING","v":0.76},{"c":"TZA","r":2,"s":"PCM","f":"VAX","o":"EMERGING","v":0.76},{"c":"TZA","r":2,"s":"PCM","f":"VAX","o":"EORA","v":0.29},{"c":"TZA","r":2,"s":"PCM","f":"GX","o":"BACI","v":0.85},
{"c":"TZA","r":2,"s":"MPR","f":"GX","o":"EMERGING","v":0.50},{"c":"TZA","r":2,"s":"MPR","f":"VAX","o":"EMERGING","v":0.43},{"c":"TZA","r":2,"s":"MPR","f":"VAX","o":"EORA","v":0.235},{"c":"TZA","r":2,"s":"MPR","f":"GX","o":"BACI","v":0.50},
{"c":"TZA","r":2,"s":"ELM","f":"GX","o":"EMERGING","v":0.85},{"c":"TZA","r":2,"s":"ELM","f":"VAX","o":"EMERGING","v":0.79},{"c":"TZA","r":2,"s":"ELM","f":"VAX","o":"EORA","v":0.60},{"c":"TZA","r":2,"s":"ELM","f":"GX","o":"BACI","v":0.59},
{"c":"TZA","r":2,"s":"TEQ","f":"GX","o":"EMERGING","v":0.29},{"c":"TZA","r":2,"s":"TEQ","f":"VAX","o":"EMERGING","v":0.29},{"c":"TZA","r":2,"s":"TEQ","f":"VAX","o":"EORA","v":1.16},{"c":"TZA","r":2,"s":"TEQ","f":"GX","o":"BACI","v":0.70},
{"c":"TZA","r":2,"s":"MAN","f":"GX","o":"EMERGING","v":0.19},{"c":"TZA","r":2,"s":"MAN","f":"VAX","o":"EMERGING","v":0.22},{"c":"TZA","r":2,"s":"MAN","f":"VAX","o":"EORA","v":2.32},{"c":"TZA","r":2,"s":"MAN","f":"GX","o":"BACI","v":0.63},
{"c":"TZA","r":2,"s":"EGW","f":"VAX","o":"EORA","v":1.73},
{"c":"TZA","r":2,"s":"CON","f":"GX","o":"EMERGING","v":3.97},{"c":"TZA","r":2,"s":"CON","f":"VAX","o":"EMERGING","v":4.47},{"c":"TZA","r":2,"s":"CON","f":"VAX","o":"EORA","v":1.08},
{"c":"TZA","r":2,"s":"SMH","f":"GX","o":"EMERGING","v":0.64},{"c":"TZA","r":2,"s":"SMH","f":"VAX","o":"EMERGING","v":0.64},{"c":"TZA","r":2,"s":"SMH","f":"VAX","o":"EORA","v":0.63},
{"c":"TZA","r":2,"s":"TRA","f":"GX","o":"EMERGING","v":1.39},{"c":"TZA","r":2,"s":"TRA","f":"VAX","o":"EMERGING","v":1.18},{"c":"TZA","r":2,"s":"TRA","f":"VAX","o":"EORA","v":0.86},
{"c":"TZA","r":2,"s":"PTE","f":"GX","o":"EMERGING","v":1.88},{"c":"TZA","r":2,"s":"PTE","f":"VAX","o":"EMERGING","v":1.58},{"c":"TZA","r":2,"s":"PTE","f":"VAX","o":"EORA","v":0.97},
{"c":"TZA","r":2,"s":"FIB","f":"GX","o":"EMERGING","v":0.089},{"c":"TZA","r":2,"s":"FIB","f":"VAX","o":"EMERGING","v":0.089},{"c":"TZA","r":2,"s":"FIB","f":"VAX","o":"EORA","v":3.26},
{"c":"TZA","r":2,"s":"PAO","f":"GX","o":"EMERGING","v":0.03},{"c":"TZA","r":2,"s":"PAO","f":"VAX","o":"EMERGING","v":0.03},{"c":"TZA","r":2,"s":"PAO","f":"VAX","o":"EORA","v":2.4},

{"c":"KEN","r":2,"s":"AFF","f":"GX","o":"EMERGING","v":0.29},{"c":"KEN","r":2,"s":"AFF","f":"VAX","o":"EMERGING","v":0.264},{"c":"KEN","r":2,"s":"AFF","f":"VAX","o":"EORA","v":0.137},{"c":"KEN","r":2,"s":"AFF","f":"GX","o":"BACI","v":0.243},
{"c":"KEN","r":2,"s":"MIN","f":"GX","o":"EMERGING","v":0.71},{"c":"KEN","r":2,"s":"MIN","f":"VAX","o":"EMERGING","v":0.71},{"c":"KEN","r":2,"s":"MIN","f":"VAX","o":"EORA","v":1.25},{"c":"KEN","r":2,"s":"MIN","f":"GX","o":"BACI","v":1.06},
{"c":"KEN","r":2,"s":"FBE","f":"GX","o":"EMERGING","v":0.69},{"c":"KEN","r":2,"s":"FBE","f":"VAX","o":"EMERGING","v":0.76},{"c":"KEN","r":2,"s":"FBE","f":"VAX","o":"EORA","v":0.89},{"c":"KEN","r":2,"s":"FBE","f":"GX","o":"BACI","v":0.73},
{"c":"KEN","r":2,"s":"TEX","f":"GX","o":"EMERGING","v":0.94},{"c":"KEN","r":2,"s":"TEX","f":"VAX","o":"EMERGING","v":1.1},{"c":"KEN","r":2,"s":"TEX","f":"VAX","o":"EORA","v":1.18},{"c":"KEN","r":2,"s":"TEX","f":"GX","o":"BACI","v":0.91},
{"c":"KEN","r":2,"s":"WAP","f":"GX","o":"EMERGING","v":1.0},{"c":"KEN","r":2,"s":"WAP","f":"VAX","o":"EMERGING","v":0.80},{"c":"KEN","r":2,"s":"WAP","f":"VAX","o":"EORA","v":1.19},{"c":"KEN","r":2,"s":"WAP","f":"GX","o":"BACI","v":1.02},
{"c":"KEN","r":2,"s":"PCM","f":"GX","o":"EMERGING","v":1.52},{"c":"KEN","r":2,"s":"PCM","f":"VAX","o":"EMERGING","v":1.52},{"c":"KEN","r":2,"s":"PCM","f":"VAX","o":"EORA","v":1.19},{"c":"KEN","r":2,"s":"PCM","f":"GX","o":"BACI","v":1.32},
{"c":"KEN","r":2,"s":"MPR","f":"GX","o":"EMERGING","v":1.37},{"c":"KEN","r":2,"s":"MPR","f":"VAX","o":"EMERGING","v":1.33},{"c":"KEN","r":2,"s":"MPR","f":"VAX","o":"EORA","v":1.12},{"c":"KEN","r":2,"s":"MPR","f":"GX","o":"BACI","v":1.25},
{"c":"KEN","r":2,"s":"ELM","f":"GX","o":"EMERGING","v":1.35},{"c":"KEN","r":2,"s":"ELM","f":"VAX","o":"EMERGING","v":1.2},{"c":"KEN","r":2,"s":"ELM","f":"VAX","o":"EORA","v":1.15},
{"c":"KEN","r":2,"s":"TEQ","f":"GX","o":"EMERGING","v":1.77},{"c":"KEN","r":2,"s":"TEQ","f":"VAX","o":"EMERGING","v":1.61},{"c":"KEN","r":2,"s":"TEQ","f":"VAX","o":"EORA","v":0.92},{"c":"KEN","r":2,"s":"TEQ","f":"GX","o":"BACI","v":1.31},
{"c":"KEN","r":2,"s":"MAN","f":"GX","o":"EMERGING","v":1.63},{"c":"KEN","r":2,"s":"MAN","f":"VAX","o":"EMERGING","v":1.63},{"c":"KEN","r":2,"s":"MAN","f":"VAX","o":"EORA","v":1.05},{"c":"KEN","r":2,"s":"MAN","f":"GX","o":"BACI","v":1.45},
{"c":"KEN","r":2,"s":"EGW","f":"GX","o":"EMERGING","v":0.47},{"c":"KEN","r":2,"s":"EGW","f":"VAX","o":"EMERGING","v":0.47},{"c":"KEN","r":2,"s":"EGW","f":"VAX","o":"EORA","v":1.14},
{"c":"KEN","r":2,"s":"CON","f":"GX","o":"EMERGING","v":0.03},{"c":"KEN","r":2,"s":"CON","f":"VAX","o":"EMERGING","v":0.03},{"c":"KEN","r":2,"s":"CON","f":"VAX","o":"EORA","v":0.91},
{"c":"KEN","r":2,"s":"SMH","f":"GX","o":"EMERGING","v":1.6},{"c":"KEN","r":2,"s":"SMH","f":"VAX","o":"EMERGING","v":1.6},{"c":"KEN","r":2,"s":"SMH","f":"VAX","o":"EORA","v":1.06},
{"c":"KEN","r":2,"s":"TRA","f":"GX","o":"EMERGING","v":0.98},{"c":"KEN","r":2,"s":"TRA","f":"VAX","o":"EMERGING","v":1.04},
{"c":"KEN","r":2,"s":"PTE","f":"GX","o":"EMERGING","v":0.71},{"c":"KEN","r":2,"s":"PTE","f":"VAX","o":"EMERGING","v":0.82},{"c":"KEN","r":2,"s":"PTE","f":"VAX","o":"EORA","v":1.06},
{"c":"KEN","r":2,"s":"FIB","f":"GX","o":"EMERGING","v":0.64},{"c":"KEN","r":2,"s":"FIB","f":"VAX","o":"EMERGING","v":0.64},{"c":"KEN","r":2,"s":"FIB","f":"VAX","o":"EORA","v":1.07},
{"c":"KEN","r":2,"s":"PAO","f":"GX","o":"EMERGING","v":0.56},{"c":"KEN","r":2,"s":"PAO","f":"VAX","o":"EMERGING","v":0.53},{"c":"KEN","r":2,"s":"PAO","f":"VAX","o":"EORA","v":0.70},

{"c":"RWA","r":2,"s":"AFF","f":"GX","o":"EMERGING","v":0.85},{"c":"RWA","r":2,"s":"AFF","f":"VAX","o":"EMERGING","v":0.95},{"c":"RWA","r":2,"s":"AFF","f":"VAX","o":"EORA","v":1.63},{"c":"RWA","r":2,"s":"AFF","f":"GX","o":"BACI","v":0.50},
{"c":"RWA","r":2,"s":"MIN","f":"GX","o":"EMERGING","v":0.64},{"c":"RWA","r":2,"s":"MIN","f":"VAX","o":"EMERGING","v":0.76},{"c":"RWA","r":2,"s":"MIN","f":"VAX","o":"EORA","v":0.32},{"c":"RWA","r":2,"s":"MIN","f":"GX","o":"BACI","v":1.05},
{"c":"RWA","r":2,"s":"FBE","f":"GX","o":"EMERGING","v":1.97},{"c":"RWA","r":2,"s":"FBE","f":"VAX","o":"EMERGING","v":1.49},{"c":"RWA","r":2,"s":"FBE","f":"VAX","o":"EORA","v":0.72},{"c":"RWA","r":2,"s":"FBE","f":"GX","o":"BACI","v":2.0},
{"c":"RWA","r":2,"s":"TEX","f":"GX","o":"EMERGING","v":1.39},{"c":"RWA","r":2,"s":"TEX","f":"VAX","o":"EMERGING","v":1.71},{"c":"RWA","r":2,"s":"TEX","f":"VAX","o":"EORA","v":0.34},{"c":"RWA","r":2,"s":"TEX","f":"GX","o":"BACI","v":1.97},
{"c":"RWA","r":2,"s":"WAP","f":"GX","o":"EMERGING","v":0.059},{"c":"RWA","r":2,"s":"WAP","f":"VAX","o":"EMERGING","v":0.089},{"c":"RWA","r":2,"s":"WAP","f":"VAX","o":"EORA","v":0.24},{"c":"RWA","r":2,"s":"WAP","f":"GX","o":"BACI","v":0.108},
{"c":"RWA","r":2,"s":"PCM","f":"GX","o":"EMERGING","v":0.48},{"c":"RWA","r":2,"s":"PCM","f":"VAX","o":"EMERGING","v":0.58},{"c":"RWA","r":2,"s":"PCM","f":"VAX","o":"EORA","v":0.37},{"c":"RWA","r":2,"s":"PCM","f":"GX","o":"BACI","v":0.21},
{"c":"RWA","r":2,"s":"MPR","f":"GX","o":"EMERGING","v":0.19},{"c":"RWA","r":2,"s":"MPR","f":"VAX","o":"EMERGING","v":0.27},{"c":"RWA","r":2,"s":"MPR","f":"VAX","o":"EORA","v":0.51},{"c":"RWA","r":2,"s":"MPR","f":"GX","o":"BACI","v":0.58},
{"c":"RWA","r":2,"s":"ELM","f":"GX","o":"EMERGING","v":0.88},{"c":"RWA","r":2,"s":"ELM","f":"VAX","o":"EMERGING","v":1.34},{"c":"RWA","r":2,"s":"ELM","f":"VAX","o":"EORA","v":0.49},{"c":"RWA","r":2,"s":"ELM","f":"GX","o":"BACI","v":0.73},
{"c":"RWA","r":2,"s":"TEQ","f":"GX","o":"EMERGING","v":0.52},{"c":"RWA","r":2,"s":"TEQ","f":"VAX","o":"EMERGING","v":0.72},{"c":"RWA","r":2,"s":"TEQ","f":"VAX","o":"EORA","v":0.81},{"c":"RWA","r":2,"s":"TEQ","f":"GX","o":"BACI","v":1.05},
{"c":"RWA","r":2,"s":"MAN","f":"GX","o":"EMERGING","v":0.47},{"c":"RWA","r":2,"s":"MAN","f":"VAX","o":"EMERGING","v":0.59},{"c":"RWA","r":2,"s":"MAN","f":"VAX","o":"EORA","v":0.17},{"c":"RWA","r":2,"s":"MAN","f":"GX","o":"BACI","v":0.54},
{"c":"RWA","r":2,"s":"EGW","f":"GX","o":"EMERGING","v":0.52},{"c":"RWA","r":2,"s":"EGW","f":"VAX","o":"EMERGING","v":0.76},{"c":"RWA","r":2,"s":"EGW","f":"VAX","o":"EORA","v":6.5},
{"c":"RWA","r":2,"s":"CON","f":"GX","o":"EMERGING","v":0.03},{"c":"RWA","r":2,"s":"CON","f":"VAX","o":"EMERGING","v":0.03},{"c":"RWA","r":2,"s":"CON","f":"VAX","o":"EORA","v":17.7},
{"c":"RWA","r":2,"s":"SMH","f":"GX","o":"EMERGING","v":0.86},{"c":"RWA","r":2,"s":"SMH","f":"VAX","o":"EMERGING","v":0.80},{"c":"RWA","r":2,"s":"SMH","f":"VAX","o":"EORA","v":3.07},
{"c":"RWA","r":2,"s":"TRA","f":"GX","o":"EMERGING","v":0.26},{"c":"RWA","r":2,"s":"TRA","f":"VAX","o":"EMERGING","v":0.31},{"c":"RWA","r":2,"s":"TRA","f":"VAX","o":"EORA","v":1.5},
{"c":"RWA","r":2,"s":"PTE","f":"GX","o":"EMERGING","v":0.03},{"c":"RWA","r":2,"s":"PTE","f":"VAX","o":"EMERGING","v":0.03},{"c":"RWA","r":2,"s":"PTE","f":"VAX","o":"EORA","v":3.14},
{"c":"RWA","r":2,"s":"FIB","f":"GX","o":"EMERGING","v":0.045},{"c":"RWA","r":2,"s":"FIB","f":"VAX","o":"EMERGING","v":0.048},{"c":"RWA","r":2,"s":"FIB","f":"VAX","o":"EORA","v":0.47},
{"c":"RWA","r":2,"s":"PAO","f":"GX","o":"EMERGING","v":13.5},{"c":"RWA","r":2,"s":"PAO","f":"VAX","o":"EMERGING","v":15.4},{"c":"RWA","r":2,"s":"PAO","f":"VAX","o":"EORA","v":6.6},

{"c":"BDI","r":2,"s":"AFF","f":"GX","o":"EMERGING","v":0.24},{"c":"BDI","r":2,"s":"AFF","f":"VAX","o":"EMERGING","v":0.22},{"c":"BDI","r":2,"s":"AFF","f":"VAX","o":"EORA","v":1.47},{"c":"BDI","r":2,"s":"AFF","f":"GX","o":"BACI","v":0.45},
{"c":"BDI","r":2,"s":"MIN","f":"GX","o":"EMERGING","v":0.15},{"c":"BDI","r":2,"s":"MIN","f":"VAX","o":"EMERGING","v":0.125},{"c":"BDI","r":2,"s":"MIN","f":"VAX","o":"EORA","v":0.18},{"c":"BDI","r":2,"s":"MIN","f":"GX","o":"BACI","v":0.033},
{"c":"BDI","r":2,"s":"FBE","f":"GX","o":"EMERGING","v":2.14},{"c":"BDI","r":2,"s":"FBE","f":"VAX","o":"EMERGING","v":1.95},{"c":"BDI","r":2,"s":"FBE","f":"VAX","o":"EORA","v":0.39},{"c":"BDI","r":2,"s":"FBE","f":"GX","o":"BACI","v":1.25},
{"c":"BDI","r":2,"s":"TEX","f":"GX","o":"EMERGING","v":0.95},{"c":"BDI","r":2,"s":"TEX","f":"VAX","o":"EMERGING","v":1.07},{"c":"BDI","r":2,"s":"TEX","f":"VAX","o":"EORA","v":0.33},{"c":"BDI","r":2,"s":"TEX","f":"GX","o":"BACI","v":0.97},
{"c":"BDI","r":2,"s":"WAP","f":"GX","o":"EMERGING","v":0.118},{"c":"BDI","r":2,"s":"WAP","f":"VAX","o":"EMERGING","v":0.15},{"c":"BDI","r":2,"s":"WAP","f":"VAX","o":"EORA","v":0.145},{"c":"BDI","r":2,"s":"WAP","f":"GX","o":"BACI","v":0.15},
{"c":"BDI","r":2,"s":"PCM","f":"GX","o":"EMERGING","v":0.58},{"c":"BDI","r":2,"s":"PCM","f":"VAX","o":"EMERGING","v":0.58},{"c":"BDI","r":2,"s":"PCM","f":"VAX","o":"EORA","v":0.13},{"c":"BDI","r":2,"s":"PCM","f":"GX","o":"BACI","v":0.6},
{"c":"BDI","r":2,"s":"MPR","f":"GX","o":"EMERGING","v":0.66},{"c":"BDI","r":2,"s":"MPR","f":"VAX","o":"EMERGING","v":0.54},{"c":"BDI","r":2,"s":"MPR","f":"VAX","o":"EORA","v":0.42},{"c":"BDI","r":2,"s":"MPR","f":"GX","o":"BACI","v":1.34},
{"c":"BDI","r":2,"s":"ELM","f":"GX","o":"EMERGING","v":0.94},{"c":"BDI","r":2,"s":"ELM","f":"VAX","o":"EMERGING","v":1.14},{"c":"BDI","r":2,"s":"ELM","f":"VAX","o":"EORA","v":0.27},
{"c":"BDI","r":2,"s":"TEQ","f":"GX","o":"EMERGING","v":0.9},{"c":"BDI","r":2,"s":"TEQ","f":"VAX","o":"EMERGING","v":0.75},{"c":"BDI","r":2,"s":"TEQ","f":"VAX","o":"EORA","v":2.32},{"c":"BDI","r":2,"s":"TEQ","f":"GX","o":"BACI","v":0.98},
{"c":"BDI","r":2,"s":"MAN","f":"GX","o":"EMERGING","v":0.59},{"c":"BDI","r":2,"s":"MAN","f":"VAX","o":"EMERGING","v":0.75},{"c":"BDI","r":2,"s":"MAN","f":"VAX","o":"EORA","v":0.88},{"c":"BDI","r":2,"s":"MAN","f":"GX","o":"BACI","v":0.47},
{"c":"BDI","r":2,"s":"EGW","f":"GX","o":"EMERGING","v":0.03},{"c":"BDI","r":2,"s":"EGW","f":"VAX","o":"EMERGING","v":0.03},{"c":"BDI","r":2,"s":"EGW","f":"VAX","o":"EORA","v":5.77},
{"c":"BDI","r":2,"s":"CON","f":"GX","o":"EMERGING","v":0.03},{"c":"BDI","r":2,"s":"CON","f":"VAX","o":"EMERGING","v":0.03},{"c":"BDI","r":2,"s":"CON","f":"VAX","o":"EORA","v":29},
{"c":"BDI","r":2,"s":"SMH","f":"GX","o":"EMERGING","v":0.054},{"c":"BDI","r":2,"s":"SMH","f":"VAX","o":"EMERGING","v":0.054},{"c":"BDI","r":2,"s":"SMH","f":"VAX","o":"EORA","v":3.88},
{"c":"BDI","r":2,"s":"TRA","f":"GX","o":"EMERGING","v":0.93},{"c":"BDI","r":2,"s":"TRA","f":"VAX","o":"EMERGING","v":1.08},{"c":"BDI","r":2,"s":"TRA","f":"VAX","o":"EORA","v":0.77},
{"c":"BDI","r":2,"s":"PTE","f":"GX","o":"EMERGING","v":1.25},{"c":"BDI","r":2,"s":"PTE","f":"VAX","o":"EMERGING","v":1.58},{"c":"BDI","r":2,"s":"PTE","f":"VAX","o":"EORA","v":3.84},
{"c":"BDI","r":2,"s":"FIB","f":"GX","o":"EMERGING","v":0.197},{"c":"BDI","r":2,"s":"FIB","f":"VAX","o":"EMERGING","v":0.186},{"c":"BDI","r":2,"s":"FIB","f":"VAX","o":"EORA","v":0.46},
{"c":"BDI","r":2,"s":"PAO","f":"GX","o":"EMERGING","v":23.2},{"c":"BDI","r":2,"s":"PAO","f":"VAX","o":"EMERGING","v":21.6},{"c":"BDI","r":2,"s":"PAO","f":"VAX","o":"EORA","v":18.8}
]
},
"spacing": 0,
"vconcat": [
{
 "data": {"name": "strips"},
 "facet": {
  "row": {"field": "k", "type": "ordinal", "title": "S", "header": {"labels": false, "titleOrient": "left", "titleFontSize": 15, "titleFontWeight": "normal", "titleColor": "transparent"}},
  "column": {"field": "c", "type": "nominal", "sort": ["UGA","TZA","KEN","RWA","BDI"], "header": null}
 },
 "spacing": {"column": 6},
 "spec": {
  "width": 198, "height": 25,
  "view": {"fill": "#d9d9d9", "stroke": "#333333", "strokeWidth": 1.1},
  "mark": {"type": "text", "fontSize": 12.5, "color": "#1a1a1a", "font": "Liberation Sans"},
  "encoding": {
   "text": {"field": "c"},
   "y": {"datum": "EGW", "type": "nominal", "axis": {"title": null, "labelOpacity": 0, "tickOpacity": 0, "grid": false}}
  }
 }
},
{
 "spacing": 0,
 "hconcat": [
 {
  "data": {"name": "pts"},
  "facet": {
   "row": {"field": "r", "type": "ordinal", "title": "Sector", "header": {"labels": false, "titleOrient": "left", "titleFontSize": 15, "titleFontWeight": "normal", "titleColor": "black"}},
   "column": {"field": "c", "type": "nominal", "sort": ["UGA","TZA","KEN","RWA","BDI"], "title": "(New) Revealed Comparative Advantage", "header": {"labels": false, "titleOrient": "bottom", "titleFontSize": 15, "titleFontWeight": "normal", "titleColor": "black", "titlePadding": 1}}
  },
  "spacing": {"row": 3, "column": 6},
  "spec": {
   "width": 198, "height": 255,
   "layer": [
    {"mark": {"type": "rule", "color": "black", "strokeWidth": 1.3}, "encoding": {"x": {"datum": 1, "type": "quantitative"}}},
    {"transform": [{"filter": "datum.f === 'GX' && datum.o === 'EMERGING'"}],
     "mark": {"type": "point", "filled": true, "size": 42, "opacity": 0.8, "clip": true},
     "encoding": {
      "x": {"field": "v", "type": "quantitative", "scale": {"type": "log", "domain": [0.03, 30], "nice": false}, "axis": {"values": [0.03,0.05,0.1,0.3,0.5,1,3,5,10,30], "format": "~g", "labelAngle": 90, "labelOverlap": false, "grid": false, "labelFontSize": 11.5, "title": null}},
      "y": {"field": "s", "type": "nominal", "sort": ["AFF","MIN","FBE","TEX","WAP","PCM","MPR","ELM","TEQ","MAN","EGW","CON","SMH","TRA","PTE","FIB","PAO"], "scale": {"type": "point", "padding": 0.6}, "axis": {"title": null, "grid": true, "gridColor": "#ebebeb", "gridWidth": 1.5}},
      "color": {"field": "f", "type": "nominal", "scale": {"domain": ["GX","VAX"], "range": ["#0000ff","#ff0000"]}, "legend": {"title": "Flow:", "symbolType": "circle", "orient": "none", "direction": "horizontal", "legendX": 185, "legendY": -39, "titleOrient": "left", "titlePadding": 16, "labelOffset": 12, "columnPadding": 11}},
      "shape": {"field": "o", "type": "nominal", "scale": {"domain": ["WDR_EORA","EORA","EMERGING","BACI"], "range": ["circle","triangle-up","square","M-1,0H1M0,-1V1"]}, "legend": {"title": "Source:", "orient": "none", "direction": "horizontal", "legendX": 379, "legendY": -39, "titleOrient": "left", "titlePadding": 17, "labelOffset": 8.5, "columnPadding": 15.5, "symbolSize": 30, "symbolFillColor": "#1a1a1a", "symbolStrokeColor": "#1a1a1a", "symbolStrokeWidth": 1}}
     }},
    {"transform": [{"filter": "datum.f === 'VAX' && datum.o === 'EMERGING'"}],
     "mark": {"type": "point", "filled": true, "size": 42, "opacity": 0.8, "clip": true},
     "encoding": {"x": {"field": "v", "type": "quantitative"}, "y": {"field": "s", "type": "nominal", "sort": ["AFF","MIN","FBE","TEX","WAP","PCM","MPR","ELM","TEQ","MAN","EGW","CON","SMH","TRA","PTE","FIB","PAO"]}, "color": {"field": "f", "type": "nominal"}, "shape": {"field": "o", "type": "nominal"}}},
    {"transform": [{"filter": "datum.o === 'WDR_EORA'"}],
     "mark": {"type": "point", "filled": true, "size": 32, "opacity": 0.8, "clip": true},
     "encoding": {"x": {"field": "v", "type": "quantitative"}, "y": {"field": "s", "type": "nominal", "sort": ["AFF","MIN","FBE","TEX","WAP","PCM","MPR","ELM","TEQ","MAN","EGW","CON","SMH","TRA","PTE","FIB","PAO"]}, "color": {"field": "f", "type": "nominal"}, "shape": {"field": "o", "type": "nominal"}}},
    {"transform": [{"filter": "datum.o === 'EORA'"}],
     "mark": {"type": "point", "filled": true, "size": 45, "opacity": 0.75, "clip": true},
     "encoding": {"x": {"field": "v", "type": "quantitative"}, "y": {"field": "s", "type": "nominal", "sort": ["AFF","MIN","FBE","TEX","WAP","PCM","MPR","ELM","TEQ","MAN","EGW","CON","SMH","TRA","PTE","FIB","PAO"]}, "color": {"field": "f", "type": "nominal"}, "shape": {"field": "o", "type": "nominal"}}},
    {"transform": [{"filter": "datum.o === 'BACI'"}],
     "mark": {"type": "point", "filled": false, "size": 100, "strokeWidth": 1.1, "opacity": 0.65, "clip": true},
     "encoding": {"x": {"field": "v", "type": "quantitative"}, "y": {"field": "s", "type": "nominal", "sort": ["AFF","MIN","FBE","TEX","WAP","PCM","MPR","ELM","TEQ","MAN","EGW","CON","SMH","TRA","PTE","FIB","PAO"]}, "color": {"field": "f", "type": "nominal"}, "shape": {"field": "o", "type": "nominal"}}}
   ]
  }
 },
 {
  "data": {"name": "rstrips"},
  "facet": {"row": {"field": "r", "type": "ordinal", "header": null}},
  "spacing": {"row": 8},
  "spec": {
   "width": 18, "height": 255,
   "view": {"fill": "#d9d9d9", "stroke": "#333333", "strokeWidth": 1.1},
   "mark": {"type": "text", "angle": 90, "fontSize": 12.5, "color": "#1a1a1a", "font": "Liberation Sans"},
   "encoding": {"text": {"field": "lab"}}
  }
 }
 ]
}
],
"config": {
 "font": "Liberation Sans",
 "view": {"stroke": "#333333", "strokeWidth": 1.1},
 "axis": {"labelFont": "Liberation Sans", "labelColor": "#4d4d4d", "labelFontSize": 12, "tickColor": "#333333", "tickSize": 3, "labelPadding": 2, "domain": false, "titleFont": "Liberation Sans", "titleFontSize": 15, "titleFontWeight": "normal", "titleColor": "black"},
 "header": {"titleFont": "Liberation Sans", "titlePadding": 8},
 "legend": {"titleFont": "Liberation Sans", "labelFont": "Liberation Sans", "titleFontSize": 14, "labelFontSize": 15, "titleFontWeight": "normal", "titleColor": "black", "labelColor": "black", "symbolSize": 20, "padding": 0}
}
}
